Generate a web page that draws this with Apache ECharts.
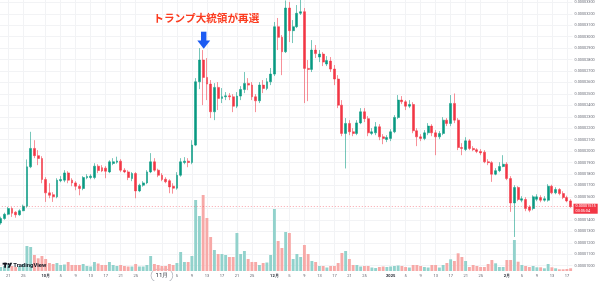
<!DOCTYPE html>
<html><head><meta charset="utf-8">
<script src="https://cdn.jsdelivr.net/npm/echarts@6/dist/echarts.min.js"></script>
<style>html,body{margin:0;padding:0;background:#fff}#c{width:599px;height:281px}</style>
</head><body><div id="c"></div>
<script>
// Daily candles, 2024-09-19 .. 2025-02-18. Prices in micro-USD (1e-6), e.g. 13.73 = 0.00001373
const startDay = [2024, 9, 19];
const open = [13.73,14.12,14.49,14.99,14.67,14.45,14.80,15.19,18.63,20.24,
19.61,19.36,17.53,16.36,16.20,16.01,17.42,17.47,18.10,17.47,
17.23,16.94,16.74,17.68,17.70,17.70,18.69,18.56,18.52,18.19,
18.93,19.04,19.13,18.34,18.19,17.61,18.05,16.53,17.03,17.23,
18.19,19.07,18.34,17.90,17.55,17.42,16.94,16.77,17.90,19.01,
19.13,19.01,20.53,26.06,27.96,26.44,25.86,23.44,25.57,24.61,
24.75,24.83,24.75,23.93,24.81,25.39,25.92,25.77,24.75,24.40,
25.77,25.48,26.06,26.73,30.87,29.94,28.68,32.50,30.52,30.87,
32.04,32.18,27.23,27.14,28.83,28.22,28.48,27.61,27.87,27.17,
26.30,24.02,21.55,22.42,21.69,21.55,22.47,23.44,22.84,21.55,
21.60,22.13,21.25,21.02,21.11,21.69,22.95,24.46,24.31,23.93,
24.08,21.78,21.25,21.11,21.60,22.19,21.60,21.25,21.55,22.71,
22.42,24.17,22.71,20.32,20.15,20.90,20.24,20.13,19.98,19.91,
19.07,19.00,17.99,18.30,18.66,18.86,17.61,15.48,16.83,15.72,
15.78,15.13,14.99,15.80,15.95,15.72,15.72,16.94,16.36,16.65,
16.30,15.95,15.66];
const close = [14.12,14.49,14.99,14.58,14.45,14.80,15.19,18.63,20.24,19.61,
19.36,17.53,16.36,16.15,16.01,17.47,17.53,18.10,17.47,17.23,
16.94,16.74,17.70,17.79,17.82,18.69,18.31,18.28,18.25,19.07,
19.07,19.15,18.34,18.19,17.70,18.05,16.53,17.03,17.23,18.19,
19.07,18.34,17.90,17.53,17.33,16.88,16.77,17.90,19.07,19.13,
19.01,20.53,26.06,27.96,26.44,25.86,23.44,25.57,24.61,24.75,
24.83,24.75,23.93,24.81,25.39,25.92,25.77,24.75,24.40,25.77,
25.48,26.06,26.73,30.87,29.94,28.68,32.50,30.52,30.87,32.04,
32.18,27.23,27.14,28.83,28.52,28.48,27.78,27.91,27.17,26.30,
24.02,21.55,22.42,21.69,21.55,22.47,23.44,22.84,21.60,21.69,
22.13,21.25,21.11,21.20,21.69,22.95,24.46,24.31,23.93,24.08,
21.78,21.25,21.11,21.60,22.19,21.60,21.25,21.55,22.71,22.42,
24.17,22.71,20.32,20.24,20.90,20.24,20.13,19.98,19.85,19.07,
19.00,17.99,18.30,18.66,18.86,17.61,15.48,16.83,15.78,15.85,
14.99,14.84,16.01,16.01,15.72,15.85,16.94,16.36,16.65,16.30,
15.95,15.66,15.15];
const low = [13.58,14.01,14.41,14.26,14.19,14.36,14.76,15.06,18.52,19.39,
18.78,17.20,15.57,15.89,15.57,15.89,17.29,17.29,17.20,16.94,
16.59,16.15,16.59,17.55,17.55,17.55,18.08,18.17,17.64,18.08,
18.78,18.91,18.17,18.08,17.47,17.38,15.89,16.42,16.90,17.12,
18.08,18.21,17.73,17.38,17.20,16.33,16.29,16.64,17.77,18.86,
18.60,18.86,20.44,25.42,24.02,24.46,22.89,22.71,23.59,24.20,
24.46,24.46,23.41,23.76,24.46,25.07,25.33,24.46,23.41,24.20,
25.07,25.33,25.77,26.56,28.83,26.64,28.57,29.53,29.44,30.75,
31.89,24.20,24.37,26.91,28.13,27.78,27.43,27.43,26.91,25.77,
23.76,21.31,18.49,21.40,21.31,21.40,22.36,22.54,21.31,21.40,
21.40,20.96,20.61,20.79,20.88,21.57,22.80,24.11,23.59,23.76,
21.57,20.44,20.88,20.96,21.40,21.31,19.65,21.05,21.40,22.19,
22.19,22.45,20.09,19.65,20.00,20.09,20.00,19.83,19.65,18.95,
18.78,17.32,17.90,18.17,18.60,17.47,14.70,12.51,15.63,15.54,
14.76,14.67,14.84,15.63,15.54,15.59,15.59,16.24,16.24,16.15,
15.81,15.54,15.06];
const high = [14.28,14.63,15.13,15.11,14.76,14.93,15.33,19.28,21.69,20.96,
20.09,19.56,17.73,17.20,16.42,17.64,17.82,18.34,18.25,17.64,
17.38,17.12,17.82,17.99,17.99,18.95,18.86,18.78,18.69,19.21,
19.39,19.52,19.30,18.52,18.34,18.17,18.17,17.16,17.38,18.34,
19.83,19.39,18.47,18.08,17.73,17.55,17.20,18.17,19.39,19.48,
19.39,20.96,26.38,29.00,28.83,28.13,26.21,25.94,26.03,25.51,
25.16,25.07,24.98,25.16,25.68,26.91,26.38,26.03,24.98,26.03,
26.21,26.38,27.26,31.28,31.63,30.14,33.16,33.03,31.45,32.76,
33.20,32.50,27.96,29.70,29.27,28.83,28.65,28.30,28.22,27.52,
26.64,24.46,22.89,22.71,22.01,22.71,23.76,23.76,23.06,22.01,
22.54,22.36,21.49,21.40,21.92,23.15,24.90,24.81,24.46,24.46,
24.28,22.01,21.49,21.84,22.45,22.36,21.84,21.75,22.97,22.89,
24.90,25.04,22.89,20.70,21.22,21.05,20.44,20.26,20.18,20.09,
19.30,19.13,18.52,19.04,19.65,19.04,17.82,17.03,16.94,16.07,
15.98,15.28,16.15,16.24,16.15,16.07,17.12,17.07,16.85,16.77,
16.50,16.11,15.81];
// relative daily volume (no scale shown on the chart)
const volume = [4,5,6,5,4,5,7,25,24,16,
12.7,15,12,8,7,8,6,6.5,9,6,
6,6,7,5,4.5,9,7.5,6,6,9,
6,5,6,5,4.5,4.5,7,4.5,4.5,6,
15,7,6,5,5,7,6,8,19,9,
9,15,71,55,76,53,34,21,17,17,
16,14,14,38,17,20,12,9,9,6,
8,8.5,16,62,30,23,39,38,12,17,
14,26,17,10,9,5,5,3.5,5,5,
8,18,20,12,6,6,4.5,5,5,3.5,
3,4,4.5,4,4.5,5,5.5,5,4,3.5,
6,6,5,4,3.5,6,6,3.5,6,8,
11.7,10,17.7,14,10,4,6,5,4,4,
7,11,7.7,4,4,11,11,31,9.3,6,
5,4,5,3.7,3.7,2.7,7,3.7,2.7,1.7,
1.7,2,2.7];
const priceTicks = {min: 10, max: 33, step: 1};
const labelDays = [1, 5, 9, 13, 17, 21, 25];
const highlightedDate = '2024-11-01';
const countdown = '03:05:04';
const annotationText = 'トランプ大統領が再選';

const dates = [];
(function () {
  const d = new Date(Date.UTC(startDay[0], startDay[1] - 1, startDay[2]));
  for (let i = 0; i < open.length; i++) {
    dates.push(d.toISOString().slice(0, 10));
    d.setUTCDate(d.getUTCDate() + 1);
  }
})();

const UP = '#089981', DOWN = '#f23645';
const UP_VOL = '#92d2cc', DOWN_VOL = '#f7a9a7';
const fmtPrice = v => (v / 1e6).toFixed(8);
const isLabelDay = (idx, val) => labelDays.indexOf(+val.slice(8, 10)) >= 0;
const lastClose = close[close.length - 1];

const candleData = open.map((o, i) => [o, close[i], low[i], high[i]]);
const volData = volume.map((v, i) => ({
  value: v,
  itemStyle: { color: close[i] >= open[i] ? UP_VOL : DOWN_VOL }
}));

const chart = echarts.init(document.getElementById('c'), null, { renderer: 'canvas' });
const FONT = 'Roboto, "Liberation Sans", sans-serif';
chart.setOption({
  animation: false,
  backgroundColor: '#ffffff',
  grid: [
    { left: -1.2, right: 26.5, top: 2.3, bottom: 15.3, containLabel: false, outerBoundsMode: 'none' },
    { left: -1.2, right: 26.5, top: 0, bottom: 10, containLabel: false, outerBoundsMode: 'none' }
  ],
  xAxis: [
    { type: 'category', gridIndex: 0, data: dates, boundaryGap: true,
      axisLine: { show: false }, axisTick: { show: false }, axisLabel: { show: false }, splitLine: { show: false } },
    { type: 'category', gridIndex: 1, data: dates, boundaryGap: true,
      axisLine: { show: false },
      axisTick: { show: false, alignWithLabel: true, interval: isLabelDay },
      splitLine: { show: true, alignWithLabel: true, interval: isLabelDay, lineStyle: { color: '#f2f3f5', width: 1 } },
      axisLabel: {
        interval: isLabelDay, margin: 4.5, verticalAlign: 'middle', fontSize: 4, color: '#5d606b', fontFamily: FONT, hideOverlap: false,
        formatter: function (v) {
          const p = v.split('-');
          const m = +p[1], d = +p[2];
          if (v === highlightedDate) return '{hl|' + m + '月}';
          if (d === 1) return m === 1 ? '{b|' + p[0] + '}' : '{b|' + m + '月}';
          return String(d);
        },
        rich: {
          b: { fontSize: 4, fontWeight: 'bold', color: '#2a2e39', fontFamily: FONT },
          hl: { fontSize: 6.2, color: '#2a2e39', fontFamily: FONT, backgroundColor: '#ffffff',
                borderColor: '#b2b5be', borderWidth: 0.8, borderRadius: 8, padding: [3, 4, 3, 4] }
        }
      } }
  ],
  yAxis: [
    { type: 'value', gridIndex: 0, position: 'right', min: priceTicks.min, max: priceTicks.max, interval: priceTicks.step,
      axisLine: { show: false }, axisTick: { show: false },
      splitLine: { lineStyle: { color: '#f2f3f5', width: 1 } },
      axisLabel: { fontSize: 3.8, color: '#6a6d78', margin: 2, fontFamily: FONT, formatter: fmtPrice } },
    { type: 'value', gridIndex: 1, min: 0, max: 271, show: false, splitLine: { show: false } }
  ],
  series: [
    { type: 'bar', xAxisIndex: 1, yAxisIndex: 1, data: volData, barWidth: 2.9, silent: true, z: 1 },
    { type: 'candlestick', xAxisIndex: 0, yAxisIndex: 0, data: candleData, barWidth: 2.3, clip: false, z: 3,
      itemStyle: { color: UP, color0: DOWN, borderColor: 'rgba(8,153,129,0.55)', borderColor0: 'rgba(242,54,69,0.55)', borderWidth: 1 },
      markLine: {
        symbol: 'none', silent: true, animation: false,
        data: [{ yAxis: lastClose }],
        lineStyle: { color: 'rgba(242,54,69,0.45)', type: [1, 2], width: 1 },
        label: {
          position: 'end', distance: 1, offset: [0, 2],
          formatter: fmtPrice(lastClose) + '\n' + countdown,
          color: '#ffffff', backgroundColor: DOWN, fontSize: 3.8, lineHeight: 4.4,
          padding: [0.6, 2, 0.6, 2], fontFamily: FONT
        }
      } }
  ],
  graphic: [
    { type: 'text', left: 153.3, top: 12.8, z: 10,
      style: { text: annotationText, fill: '#fb3b1f', font: 'bold 10.6px "Noto Sans CJK JP", sans-serif' } },
    { type: 'rect', z: 10, shape: { x: 201, y: 31.7, width: 5.4, height: 9.3 }, style: { fill: '#1d5cf2' } },
    { type: 'polygon', z: 10, shape: { points: [[197.3, 40.6], [210.2, 40.6], [203.7, 48.8]] }, style: { fill: '#1d5cf2' } },
    { type: 'rect', z: 10, shape: { x: 2.6, y: 262.8, width: 4.4, height: 1.8 }, style: { fill: '#131722' } },
    { type: 'rect', z: 10, shape: { x: 4.2, y: 262.8, width: 1.8, height: 5 }, style: { fill: '#131722' } },
    { type: 'circle', z: 10, shape: { cx: 8.3, cy: 263.9, r: 1 }, style: { fill: '#131722' } },
    { type: 'polygon', z: 10, shape: { points: [[10, 262.8], [12.2, 262.8], [9.8, 267.8], [7.6, 267.8]] }, style: { fill: '#131722' } },
    { type: 'text', left: 13.2, top: 262.2, z: 10,
      style: { text: 'TradingView', fill: '#131722', font: 'bold 5.9px Roboto, "Liberation Sans", sans-serif' } }
  ]
});
</script>
</body></html>
